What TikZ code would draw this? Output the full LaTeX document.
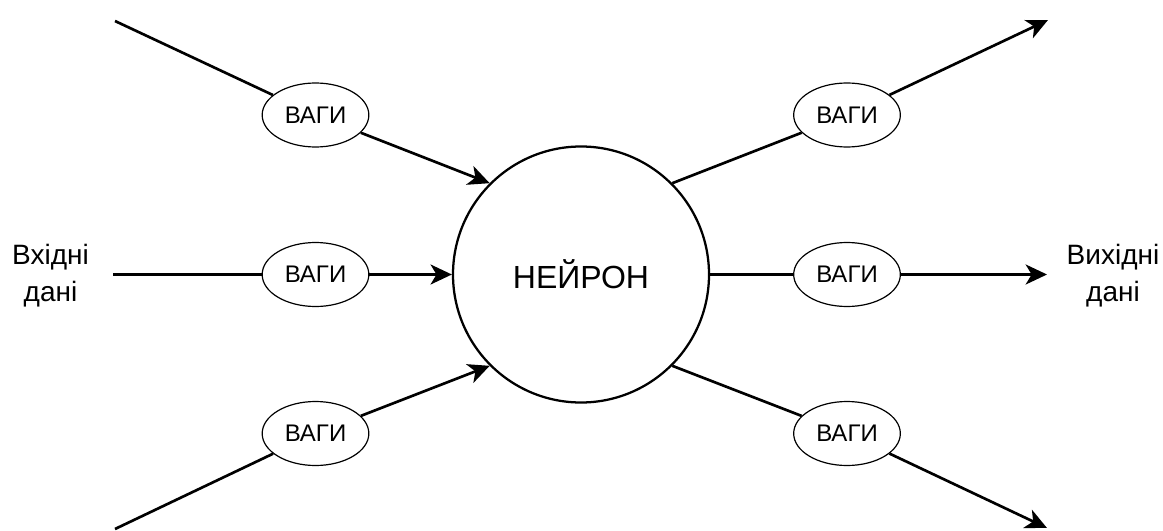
\documentclass[tikz,border=0pt]{standalone}
\usepackage{fontspec}
\setmainfont{Liberation Sans}
\usetikzlibrary{arrows.meta,shapes.geometric}
\begin{document}
\begin{tikzpicture}[x=0.75pt,y=-0.75pt,
  conn/.style={line width=2pt},
  arr/.style={conn,-{Stealth[length=16pt,width=15pt,inset=4.5pt]}},
  neuron/.style={circle,draw,line width=1.7pt,minimum size=192pt,inner sep=0pt,font=\fontsize{24}{28}\selectfont},
  weight/.style={ellipse,draw,line width=0.9pt,minimum width=80pt,minimum height=48pt,inner sep=0pt,font=\fontsize{18}{20}\selectfont},
  label/.style={align=center,inner sep=0pt,font=\fontsize{21}{27.75}\selectfont}]
\useasboundingbox (0,0) rectangle (1163,531);

% central neuron
\node[neuron] (n) at (581,274.5) {НЕЙРОН};

% weights on the inputs
\node[weight] (w1) at (315.5,115) {ВАГИ};
\node[weight] (w2) at (315.5,274.5) {ВАГИ};
\node[weight] (w3) at (315.5,433.5) {ВАГИ};

% weights on the outputs
\node[weight] (v1) at (847,115) {ВАГИ};
\node[weight] (v2) at (847,274.5) {ВАГИ};
\node[weight] (v3) at (847,433.5) {ВАГИ};

% free ends of the connectors
\coordinate (i1) at (115,21);
\coordinate (i2) at (113,274.5);
\coordinate (i3) at (115,529);
\coordinate (o1) at (1048,20);
\coordinate (o2) at (1047,274.5);
\coordinate (o3) at (1047,528);

% labels
\node[label] (inlab) at (50.5,276) {Вхідні\\дані};
\node[label] (outlab) at (1113,276) {Вихідні\\дані};

% inputs
\draw[conn] (i1) -- (w1);
\draw[arr] (w1) -- (n.135);
\draw[conn] (i2) -- (w2);
\draw[arr] (w2) -- (n.west);
\draw[conn] (i3) -- (w3);
\draw[arr] (w3) -- (n.-135);

% outputs
\draw[conn] (n.45) -- (v1);
\draw[arr] (v1) -- (o1);
\draw[conn] (n.east) -- (v2);
\draw[arr] (v2) -- (o2);
\draw[conn] (n.-45) -- (v3);
\draw[arr] (v3) -- (o3);
\end{tikzpicture}
\end{document}
